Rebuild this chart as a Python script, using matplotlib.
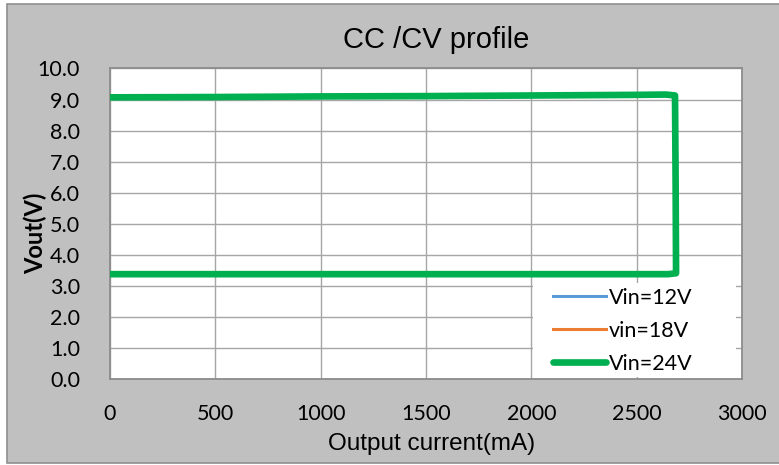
import matplotlib
matplotlib.use("Agg")
import matplotlib.pyplot as plt
from matplotlib.patches import Rectangle

# (mA, V); the 12V and 18V traces sit under the 24V one
current_ma = [0, 500, 1000, 1500, 2000, 2500, 2640, 2682, 2685, 2687,
              2650, 2000, 1500, 1000, 500, 0]
vin24_v = [9.07, 9.08, 9.10, 9.11, 9.13, 9.15, 9.16, 9.13, 6.20, 3.40,
           3.37, 3.37, 3.37, 3.37, 3.37, 3.37]
vin12_v = vin24_v
vin18_v = vin24_v

series_labels = ["Vin=12V", "vin=18V", "Vin=24V"]
series_colors = ["#5b9bd5", "#ed7d31", "#00b050"]
x_ticks = [0, 500, 1000, 1500, 2000, 2500, 3000]
y_ticks = [0, 1, 2, 3, 4, 5, 6, 7, 8, 9, 10]

W, H = 779, 465
fig = plt.figure(figsize=(W / 100, H / 100), dpi=100)
fig.patch.set_facecolor("white")

# chart area (gray with border)
fig.patches.append(Rectangle((7 / W, 2 / H), 1.0, (461 - 2) / H,
                             transform=fig.transFigure, facecolor="#c0c0c0",
                             edgecolor="#8f8f8f", linewidth=1.2, zorder=-5))

left, right, top, bottom = 110, 742, 68.5, 378.7
ax = fig.add_axes([left / W, (H - bottom) / H, (right - left) / W, (bottom - top) / H])
ax.set_facecolor("white")

ax.plot(current_ma, vin12_v, color=series_colors[0], lw=2.2, label=series_labels[0],
        solid_joinstyle="round", zorder=3)
ax.plot(current_ma, vin18_v, color=series_colors[1], lw=2.2, label=series_labels[1],
        solid_joinstyle="round", zorder=3)
ax.plot(current_ma, vin24_v, color=series_colors[2], lw=4.8, label=series_labels[2],
        solid_joinstyle="round", solid_capstyle="round", zorder=4)

ax.set_xlim(0, 3000)
ax.set_ylim(0, 10)
ax.set_xticks(x_ticks)
ax.set_yticks(y_ticks)
ax.set_xticklabels([str(t) for t in x_ticks])
ax.set_yticklabels(["%.1f" % t for t in y_ticks])
ax.grid(True, color="#a6a6a6", linewidth=1.0, zorder=1)
ax.set_axisbelow(True)
ax.tick_params(axis="both", length=0, labelsize=15.5, colors="black")
ax.tick_params(axis="y", pad=21.5)
ax.tick_params(axis="x", pad=18.5)
for lab in ax.get_xticklabels() + ax.get_yticklabels():
    lab.set_family("Lato")
for sp in ax.spines.values():
    sp.set_color("#8c8c8c")
    sp.set_linewidth(1.3)

# white legend box over the grid
box_l, box_r, box_t, box_b = 533, 736, 283, 377
ax.add_patch(Rectangle(((box_l - left) / (right - left), (bottom - box_b) / (bottom - top)),
                       (box_r - box_l) / (right - left), (box_b - box_t) / (bottom - top),
                       transform=ax.transAxes, facecolor="white", edgecolor="none", zorder=2))

leg = ax.legend(loc="upper left",
                bbox_to_anchor=((553 - left) / (right - left), (bottom - 288) / (bottom - top)),
                frameon=False, borderpad=0, borderaxespad=0, handlelength=2.45,
                handletextpad=0.15, labelspacing=0.6,
                prop={"family": "Lato", "size": 15.5})

fig.text(436 / W, 1 - 40 / H, "CC /CV profile", ha="center", va="center",
         family="Liberation Sans", fontsize=21)
fig.text(432 / W, 1 - 444 / H, "Output current(mA)", ha="center", va="center",
         family="Liberation Sans", fontsize=17.5)
fig.text(35 / W, 1 - 233 / H, "Vout(V)", ha="center", va="center", rotation=90,
         family="Lato", fontweight="bold", fontsize=17)

fig.savefig("out.png", dpi=100, facecolor=fig.get_facecolor())
